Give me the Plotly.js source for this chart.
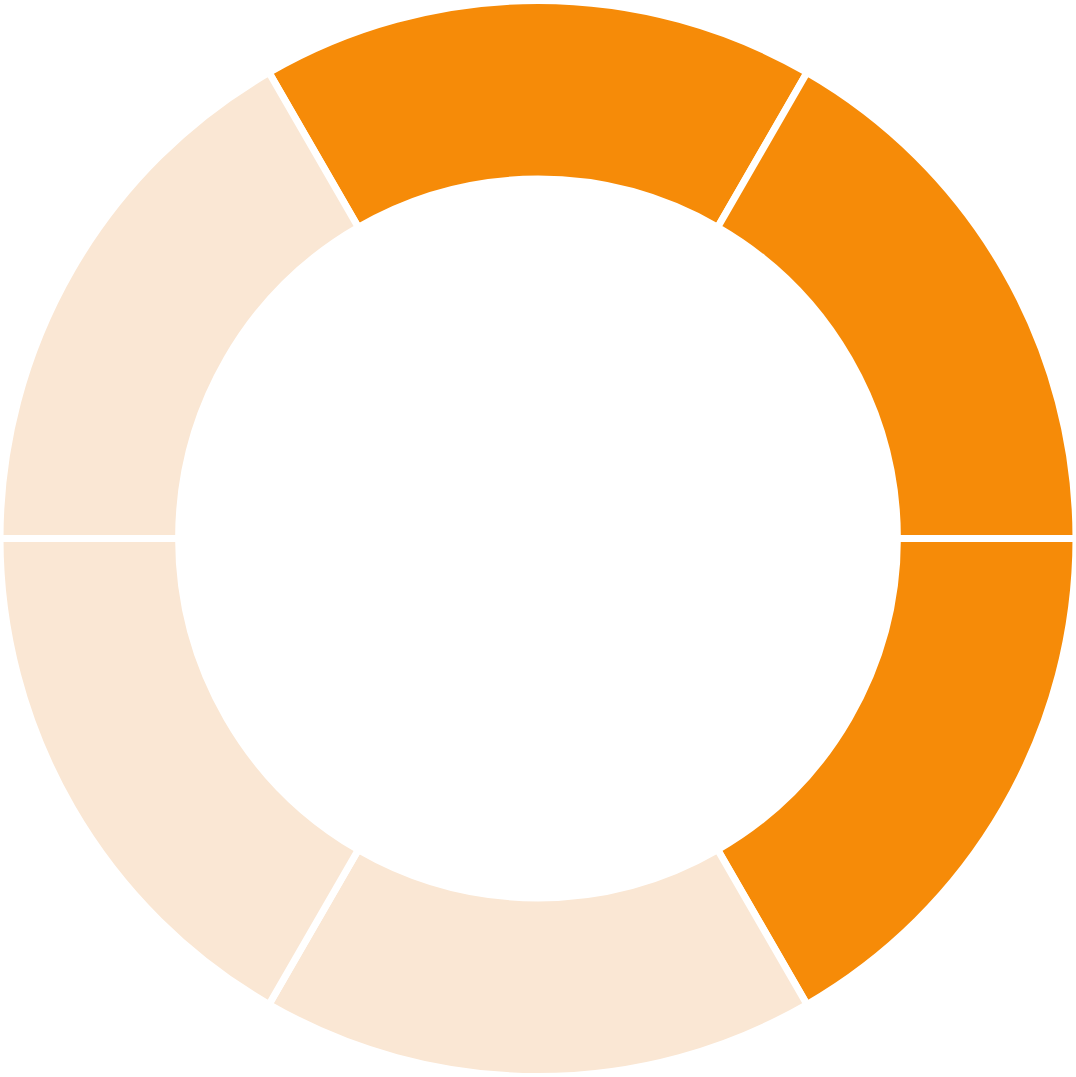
<!DOCTYPE html>
<html>
<head>
<meta charset="utf-8">
<script src="https://cdn.plot.ly/plotly-3.0.1.min.js"></script>
<style>html,body{margin:0;padding:0;background:#fff;}#chart{width:1076px;height:1077px;}</style>
</head>
<body>
<div id="chart"></div>
<script>
const segmentLabels = ["Top", "Upper right", "Lower right", "Bottom", "Lower left", "Upper left"];
const segmentValues = [1, 1, 1, 1, 1, 1];
const segmentColors = ["#F68B08", "#F68B08", "#F68B08", "#FAE7D4", "#FAE7D4", "#FAE7D4"];

Plotly.newPlot("chart", [{
  type: "pie",
  labels: segmentLabels,
  values: segmentValues,
  sort: false,
  direction: "clockwise",
  rotation: -30,
  hole: 0.668,
  textinfo: "none",
  hoverinfo: "none",
  marker: {colors: segmentColors, line: {color: "#ffffff", width: 7}},
  domain: {x: [0, 1], y: [0, 1]}
}], {
  width: 1076, height: 1077,
  margin: {l: 0, r: 0, t: 0, b: 0},
  showlegend: false,
  paper_bgcolor: "#ffffff"
}, {displayModeBar: false, staticPlot: true});
</script>
</body>
</html>
